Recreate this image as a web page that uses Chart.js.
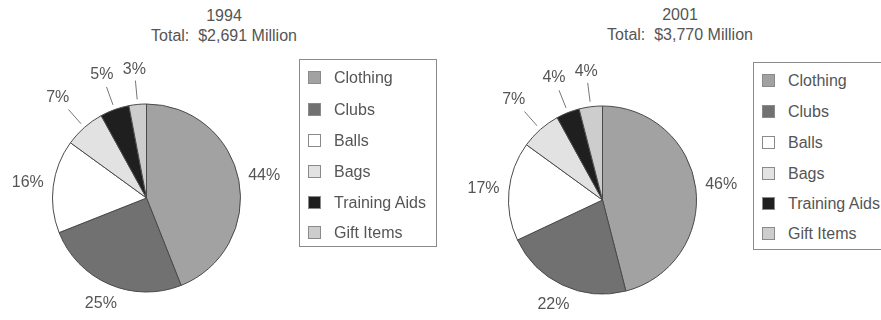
<!DOCTYPE html>
<html>
<head>
<meta charset="utf-8">
<script src="https://cdn.jsdelivr.net/npm/chart.js@4"></script>
<style>
  body { margin: 0; background: #fff; overflow: hidden; }
  #wrap { position: relative; width: 881px; height: 320px; overflow: hidden; font-family: "Liberation Sans", Arial, sans-serif; color: #555; }
  canvas { position: absolute; top: 0; }
  .title { position: absolute; width: 240px; text-align: center; font-size: 16px; line-height: 20px; white-space: pre; }
  .legend { position: absolute; border: 1px solid #8a8a8a; box-sizing: border-box; height: 188px; }
  .row { position: absolute; left: 0; height: 20px; font-size: 16px; line-height: 20px; white-space: nowrap; }
  .sw { position: absolute; left: 8px; top: 3px; width: 13px; height: 13px; box-sizing: border-box; border: 1px solid #8a8a8a; }
  .txt { position: absolute; left: 34px; top: 0; }
</style>
</head>
<body>
<div id="wrap">
  <div class="title" style="left:104px; top:6px;">1994
Total:  $2,691 Million</div>
  <div class="title" style="left:560px; top:5px;">2001
Total:  $3,770 Million</div>
  <canvas id="pie1994" width="300" height="320" style="left:0px;"></canvas>
  <canvas id="pie2001" width="300" height="320" style="left:440px;"></canvas>
  <div class="legend" id="legend1994" style="left:299px; top:59px; width:138px;"></div>
  <div class="legend" id="legend2001" style="left:753px; top:62px; width:140px;"></div>
</div>
<script>
const categories = ["Clothing", "Clubs", "Balls", "Bags", "Training Aids", "Gift Items"];
const share_1994 = [44, 25, 16, 7, 5, 3];
const share_2001 = [46, 22, 17, 7, 4, 4];
const slice_colors = ['#a2a2a2', '#717171', '#ffffff', '#e2e2e2', '#1f1f1f', '#cdcdcd'];

// percent labels outside the pie, small slices get a leader line
const outside_labels = {
    id: 'outsideLabels',
    afterDatasetsDraw(chart) {
        const ctx = chart.ctx;
        const meta = chart.getDatasetMeta(0);
        const values = chart.data.datasets[0].data;
        ctx.save();
        ctx.font = '16px "Liberation Sans", Arial, sans-serif';
        ctx.fillStyle = '#555';
        ctx.strokeStyle = '#777';
        ctx.lineWidth = 1;
        ctx.textAlign = 'center';
        ctx.textBaseline = 'middle';
        meta.data.forEach((arc, i) => {
            const p = arc.getProps(['x', 'y', 'startAngle', 'endAngle', 'outerRadius'], true);
            const mid = (p.startAngle + p.endAngle) / 2;
            const cos = Math.cos(mid);
            const sin = Math.sin(mid);
            const text = values[i] + '%';
            const half_w = ctx.measureText(text).width / 2;
            const half_h = 6;
            const proj = half_w * Math.abs(cos) + half_h * Math.abs(sin);
            let d;
            if (values[i] < 10) {
                ctx.beginPath();
                ctx.moveTo(p.x + cos * (p.outerRadius + 5), p.y + sin * (p.outerRadius + 5));
                ctx.lineTo(p.x + cos * (p.outerRadius + 24), p.y + sin * (p.outerRadius + 24));
                ctx.stroke();
                d = p.outerRadius + 28 + proj;
            } else {
                d = p.outerRadius + 9 + proj;
            }
            ctx.fillText(text, p.x + cos * d, p.y + sin * d);
        });
        ctx.restore();
    }
};

function make_pie(canvas_id, values, padding) {
    return new Chart(document.getElementById(canvas_id), {
        type: 'pie',
        data: {
            labels: categories,
            datasets: [{
                data: values,
                backgroundColor: slice_colors,
                borderColor: '#4a4a4a',
                borderWidth: 1
            }]
        },
        options: {
            responsive: false,
            animation: false,
            layout: { padding: padding },
            plugins: {
                legend: { display: false },
                tooltip: { enabled: false }
            }
        },
        plugins: [outside_labels]
    });
}

function fill_legend(legend_id, row_tops) {
    const box = document.getElementById(legend_id);
    categories.forEach((cat, i) => {
        box.innerHTML += `<div class="row" style="top:${row_tops[i]}px"><div class="sw" style="background:${slice_colors[i]}"></div><span class="txt">${cat}</span></div>`;
    });
}

onload = () => {
    make_pie('pie1994', share_1994, { left: 52, right: 59, top: 103, bottom: 27 });
    make_pie('pie2001', share_2001, { left: 68, right: 43, top: 105, bottom: 25 });
    fill_legend('legend1994', [8, 40, 71, 102, 133, 163]);
    fill_legend('legend2001', [8, 39, 70, 101, 131, 161]);
}
</script>
</body>
</html>
